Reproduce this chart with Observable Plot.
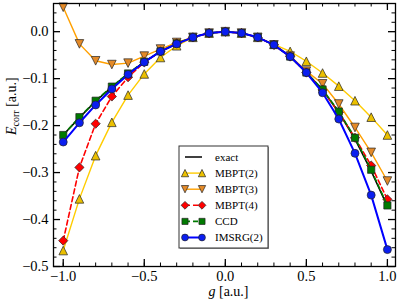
<!DOCTYPE html>
<html><head><meta charset="utf-8">
<script src="https://cdn.jsdelivr.net/npm/d3@7"></script>
<script src="https://cdn.jsdelivr.net/npm/@observablehq/plot@0.6"></script>
<style>body{margin:0;background:#fff}#chart{width:399px;height:305px}</style>
</head><body><div id="chart"></div>
<script>
// ---- data ----
const gValues = [-1.0,-0.9,-0.8,-0.7,-0.6,-0.5,-0.4,-0.3,-0.2,-0.1,0.0,0.1,0.2,0.3,0.4,0.5,0.6,0.7,0.8,0.9,1.0];
const exact  = [-0.220,-0.183,-0.148,-0.118,-0.090,-0.064,-0.043,-0.026,-0.012,-0.003,0.000,-0.003,-0.012,-0.028,-0.053,-0.087,-0.124,-0.172,-0.229,-0.297,-0.372];
const mbpt2  = [-0.466,-0.356,-0.264,-0.193,-0.135,-0.090,-0.055,-0.030,-0.012,-0.003,0.000,-0.003,-0.012,-0.027,-0.042,-0.063,-0.088,-0.116,-0.147,-0.182,-0.220];
const mbpt3  = [0.052,-0.026,-0.062,-0.070,-0.067,-0.052,-0.037,-0.023,-0.012,-0.003,0.000,-0.003,-0.012,-0.028,-0.052,-0.084,-0.111,-0.154,-0.204,-0.257,-0.318];
const mbpt4  = [-0.445,-0.289,-0.196,-0.138,-0.097,-0.065,-0.042,-0.025,-0.012,-0.003,0.000,-0.003,-0.012,-0.028,-0.053,-0.087,-0.124,-0.172,-0.226,-0.285,-0.357];
const ccd    = [-0.220,-0.182,-0.147,-0.117,-0.089,-0.064,-0.042,-0.025,-0.012,-0.003,0.000,-0.003,-0.012,-0.028,-0.053,-0.087,-0.123,-0.170,-0.226,-0.294,-0.370];
const imsrg  = [-0.235,-0.194,-0.156,-0.122,-0.091,-0.065,-0.042,-0.026,-0.012,-0.003,0.000,-0.003,-0.012,-0.028,-0.053,-0.087,-0.130,-0.186,-0.259,-0.348,-0.464];
const seriesNames = ["exact","MBPT(2)","MBPT(3)","MBPT(4)","CCD","IMSRG(2)"];
const xMajorTicks = [-1.0,-0.5,0.0,0.5,1.0];
const xMinorTicks = [-1.0,-0.9,-0.8,-0.7,-0.6,-0.5,-0.4,-0.3,-0.2,-0.1,0.0,0.1,0.2,0.3,0.4,0.5,0.6,0.7,0.8,0.9,1.0];
const yMajorTicks = [-0.5,-0.4,-0.3,-0.2,-0.1,0.0];
const yMinorTicks = [-0.48,-0.46,-0.44,-0.42,-0.38,-0.36,-0.34,-0.32,-0.28,-0.26,-0.24,-0.22,-0.18,-0.16,-0.14,-0.12,-0.08,-0.06,-0.04,-0.02,0.02,0.04];

// ---- symbols (matplotlib-like) ----
const rad = s => Math.sqrt(s / Math.PI);
const triUp = {draw(c, s){const a = rad(s); c.moveTo(0,-a); c.lineTo(a,a); c.lineTo(-a,a); c.closePath();}};
const triDown = {draw(c, s){const a = rad(s); c.moveTo(0,a); c.lineTo(a,-a); c.lineTo(-a,-a); c.closePath();}};
const diamondS = {draw(c, s){const a = rad(s); c.moveTo(0,-a); c.lineTo(a,0); c.lineTo(0,a); c.lineTo(-a,0); c.closePath();}};
const squareS = {draw(c, s){const a = rad(s); c.rect(-a,-a,2*a,2*a);}};
const circleS = {draw(c, s){const a = rad(s); c.moveTo(a,0); c.arc(0,0,a,0,2*Math.PI);}};

const values = [exact, mbpt2, mbpt3, mbpt4, ccd, imsrg];
const styles = [
  {color:"#000000", fill:null,      symbol:null,     r:0,   dash:null,  w:1.5},
  {color:"#ffcc00", fill:"#ebc000", symbol:triUp,    r:4.3, dash:null,  w:1.4},
  {color:"#ffa000", fill:"#e48a28", symbol:triDown,  r:4.3, dash:null,  w:1.4},
  {color:"#ff0000", fill:"#ff0000", symbol:diamondS, r:4.6, dash:"5,3", w:1.6},
  {color:"#007a00", fill:"#007a00", symbol:squareS,  r:3.6, dash:"5,3", w:1.6},
  {color:"#0000ff", fill:"#0a1ef0", symbol:circleS,  r:4.0, dash:null,  w:2.0}
];
const rows = seriesNames.map((name, i) => gValues.map((g, j) => ({series: name, g, v: values[i][j]})));

const W = 399, H = 305, mL = 53, mR = 4, mT = 3, mB = 39;
const iW = W - mL - mR, iH = H - mT - mB;
const fmt = d3.format(".1f");
const font = "'Liberation Serif', 'DejaVu Serif', serif";

const marks = [
  Plot.tickX(xMinorTicks, {x: d => d, insetTop: iH - 3.5, stroke: "#000", strokeWidth: 1}),
  Plot.tickX(xMinorTicks, {x: d => d, insetBottom: iH - 3.5, stroke: "#000", strokeWidth: 1}),
  Plot.tickX(xMajorTicks, {x: d => d, insetTop: iH - 7, stroke: "#000", strokeWidth: 1.3}),
  Plot.tickX(xMajorTicks, {x: d => d, insetBottom: iH - 7, stroke: "#000", strokeWidth: 1.3}),
  Plot.tickY(yMinorTicks, {y: d => d, insetRight: iW - 3.5, stroke: "#000", strokeWidth: 1}),
  Plot.tickY(yMinorTicks, {y: d => d, insetLeft: iW - 3.5, stroke: "#000", strokeWidth: 1}),
  Plot.tickY(yMajorTicks, {y: d => d, insetRight: iW - 7, stroke: "#000", strokeWidth: 1.3}),
  Plot.tickY(yMajorTicks, {y: d => d, insetLeft: iW - 7, stroke: "#000", strokeWidth: 1.3}),
  Plot.axisX({ticks: xMajorTicks, tickFormat: fmt, tickSize: 0, tickPadding: 4, fontSize: 14.5, label: null}),
  Plot.axisY({ticks: yMajorTicks, tickFormat: fmt, tickSize: 0, tickPadding: 5, fontSize: 14.5, label: null})
];
rows.forEach((data, i) => {
  const s = styles[i];
  marks.push(Plot.line(data, {x: "g", y: "v", stroke: s.color, strokeWidth: s.w, strokeDasharray: s.dash}));
  if (s.symbol) marks.push(Plot.dot(data, {x: "g", y: "v", symbol: s.symbol, r: s.r, fill: s.fill, stroke: "#222", strokeWidth: 0.7}));
});
marks.push(Plot.frame({stroke: "#000", strokeWidth: 1.3}));
marks.push(Plot.text(["YLABEL"], {frameAnchor: "left", dx: -42, rotate: -90, text: d => d, fontSize: 14}));
marks.push(Plot.text(["XLABEL"], {frameAnchor: "bottom", dy: 29, dx: 4, text: d => d, fontSize: 14}));

const svg = Plot.plot({
  width: W, height: H, marginLeft: mL, marginRight: mR, marginTop: mT, marginBottom: mB,
  style: {fontFamily: font, color: "#000", background: "#fff"},
  x: {domain: [-1.06, 1.05]},
  y: {domain: [-0.5, 0.06]},
  marks
});

// rich-text axis labels
d3.select(svg).selectAll("text").each(function() {
  const t = d3.select(this);
  if (t.text() === "YLABEL") {
    t.text("");
    t.append("tspan").attr("font-style", "italic").text("E");
    t.append("tspan").attr("font-size", 10).attr("dy", 3).text("corr");
    t.append("tspan").attr("dy", -3).text(" [a.u.]");
  } else if (t.text() === "XLABEL") {
    t.text("");
    t.append("tspan").attr("font-style", "italic").text("g");
    t.append("tspan").text(" [a.u.]");
  }
});

// legend
const lg = d3.select(svg).append("g").attr("font-family", font).attr("font-size", 11).attr("text-anchor", "start");
const lx = 179, ly = 146, lw = 89, lh = 102, step = 16.1;
lg.append("rect").attr("x", lx + 1).attr("y", ly + 1).attr("width", lw).attr("height", lh).attr("fill", "#999");
lg.append("rect").attr("x", lx).attr("y", ly).attr("width", lw).attr("height", lh)
  .attr("fill", "#fff").attr("stroke", "#333").attr("stroke-width", 1);
seriesNames.forEach((name, i) => {
  const s = styles[i], y = ly + 11 + i * step;
  const x1 = lx + 6, x2 = lx + 23;
  lg.append("line").attr("x1", x1).attr("x2", x2).attr("y1", y).attr("y2", y)
    .attr("stroke", s.color).attr("stroke-width", s.w).attr("stroke-dasharray", s.dash);
  if (s.symbol) {
    const rr = s.r * 0.85;
    [x1, x2].forEach(x => lg.append("path")
      .attr("d", d3.symbol(s.symbol, rr * rr * Math.PI)())
      .attr("transform", `translate(${x},${y})`)
      .attr("fill", s.fill).attr("stroke", "#222").attr("stroke-width", 0.7));
  }
  lg.append("text").attr("x", lx + 36).attr("y", y).attr("dy", "0.35em").text(name);
});

document.getElementById("chart").appendChild(svg);
</script></body></html>
